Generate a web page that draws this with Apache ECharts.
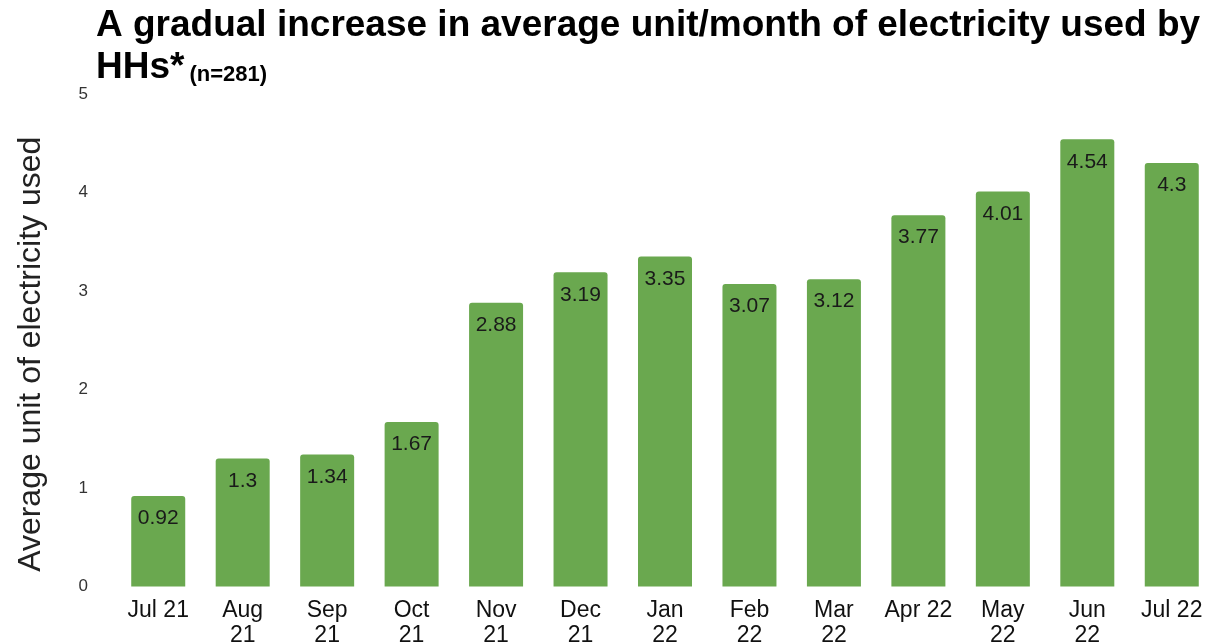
<!DOCTYPE html>
<html><head><meta charset="utf-8">
<script src="https://cdn.jsdelivr.net/npm/echarts@6/dist/echarts.min.js"></script>
<style>html,body{margin:0;padding:0;background:#fff}#c{width:1231px;height:642px}</style>
</head><body><div id="c"></div>
<script>
const categories = ["Jul 21","Aug\n21","Sep\n21","Oct\n21","Nov\n21","Dec\n21","Jan\n22","Feb\n22","Mar\n22","Apr 22","May\n22","Jun\n22","Jul 22"];
const values = [0.92,1.3,1.34,1.67,2.88,3.19,3.35,3.07,3.12,3.77,4.01,4.54,4.3];
const yTicks = [0,1,2,3,4,5];
const titleMain = "A gradual increase in average unit/month of electricity used by";
const titleLine2 = "HHs*";
const titleNote = "(n=281)";
const yName = "Average unit of electricity used";

const FONT = 'Liberation Sans, Arial, sans-serif';
const chart = echarts.init(document.getElementById('c'));
chart.setOption({
  backgroundColor: '#fff',
  animation: false,
  title: {
    left: 91, top: 5, padding: [0, 5, 0, 5],
    text: '{a|' + titleMain + '}\n{a|' + titleLine2 + '} {b|' + titleNote + '}',
    textStyle: {
      rich: {
        a: { fontFamily: FONT, fontWeight: 'bold', fontSize: 37, color: '#000', lineHeight: 42 },
        b: { fontFamily: FONT, fontWeight: 'bold', fontSize: 22, color: '#000', lineHeight: 42, verticalAlign: 'bottom', padding: [0, 0, 3, 0] }
      }
    }
  },
  grid: { left: 116, right: 17, top: 94, bottom: 55.5, containLabel: false, outerBoundsMode: 'none' },
  xAxis: {
    type: 'category', data: categories,
    axisLine: { show: false }, axisTick: { show: false },
    axisLabel: { color: '#111', fontSize: 23, fontFamily: FONT, lineHeight: 25, margin: 12, interval: 0 }
  },
  yAxis: {
    type: 'value', min: yTicks[0], max: yTicks[yTicks.length-1], interval: 1,
    axisLine: { show: false }, axisTick: { show: false }, splitLine: { show: false },
    axisLabel: { color: '#333', fontSize: 17, fontFamily: FONT, margin: 28 },
    name: yName, nameLocation: 'middle', nameGap: 69, nameRotate: 90,
    nameTextStyle: { color: '#222', fontSize: 32, fontFamily: FONT, padding: [0, 28, 0, 0] }
  },
  series: [{
    type: 'bar', data: values, barWidth: 54,
    itemStyle: { color: '#6aa84f', borderRadius: [3,3,0,0] },
    label: { show: true, position: 'insideTop', distance: 12, color: '#1a1a1a', fontSize: 21, fontFamily: FONT }
  }]
});
</script></body></html>
